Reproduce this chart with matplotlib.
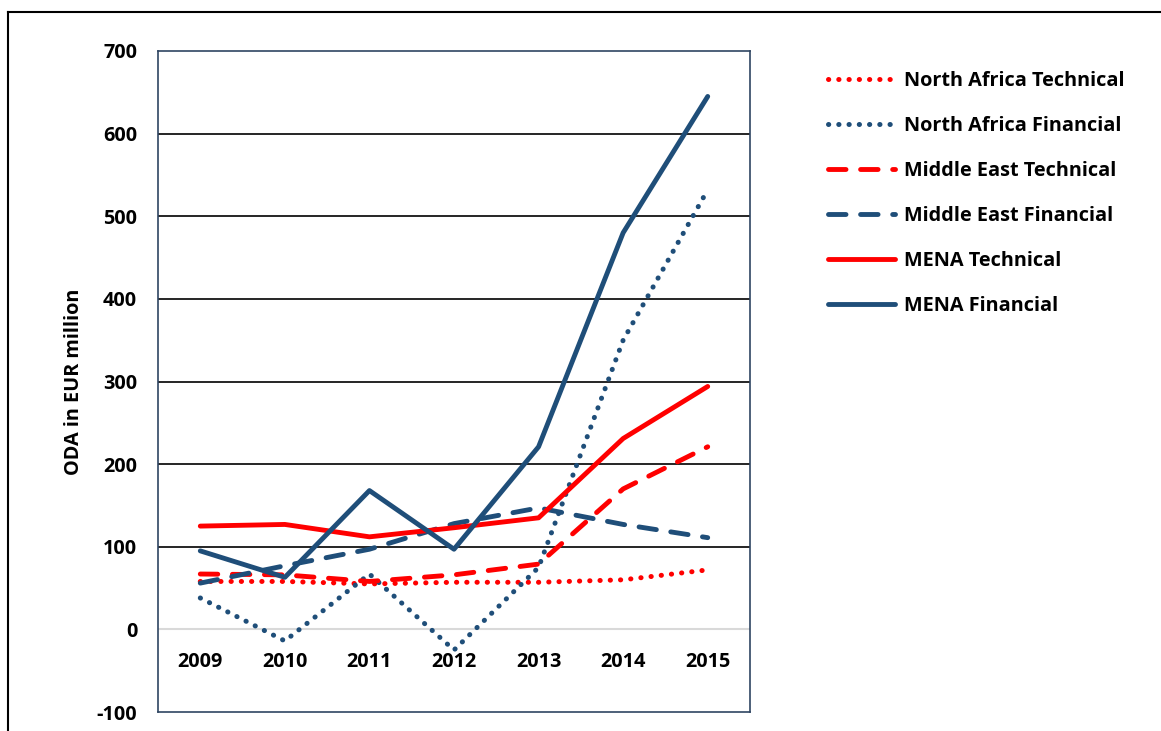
import matplotlib
matplotlib.use("Agg")
import matplotlib.pyplot as plt
from matplotlib.lines import Line2D

years = ["2009", "2010", "2011", "2012", "2013", "2014", "2015"]
na_tech = [58, 58, 55, 57, 57, 60, 72]
na_fin = [38, -14, 67, -25, 75, 350, 532]
me_tech = [67, 66, 58, 66, 79, 170, 221]
me_fin = [56, 77, 97, 128, 147, 127, 111]
mena_tech = [125, 127, 112, 123, 135, 231, 294]
mena_fin = [95, 63, 168, 97, 221, 480, 645]
yticks = [-100, 0, 100, 200, 300, 400, 500, 600, 700]

RED = "#FF0000"
BLUE = "#1F4E79"

plt.rcParams['font.family'] = ['Open Sans', 'DejaVu Sans']
plt.rcParams['font.weight'] = 'bold'
FS = 14.3

fig = plt.figure(figsize=(11.61, 7.31), dpi=100)
ax = fig.add_axes([158/1161, 1 - 712/731, (750-158)/1161, (712-51)/731])

x = list(range(len(years)))
dot = (0, (0.05, 2.0))
dash = (0, (3.6, 3.0))
series = [
    ("North Africa Technical", na_tech, RED, dot),
    ("North Africa Financial", na_fin, BLUE, dot),
    ("Middle East Technical", me_tech, RED, dash),
    ("Middle East Financial", me_fin, BLUE, dash),
    ("MENA Technical", mena_tech, RED, '-'),
    ("MENA Financial", mena_fin, BLUE, '-'),
]
handles = []
for name, vals, col, ls in series:
    kw = dict(color=col, lw=3.5, linestyle=ls, label=name, zorder=3,
              dash_capstyle='round', solid_capstyle='round', solid_joinstyle='round')
    if ls == dot:
        kw.update(lw=3.6)
    ln, = ax.plot(x, vals, **kw)
    handles.append(ln)

ax.set_xlim(-0.5, 6.5)
ax.set_ylim(-100, 700)
ax.set_yticks(yticks)
ax.set_yticklabels([str(v) for v in yticks], fontsize=FS, fontweight='bold')
ax.tick_params(axis='y', length=0, pad=15)
ax.set_xticks([])
for v in yticks[2:-1]:
    ax.axhline(v, color='black', lw=1.2, zorder=1)
ax.axhline(0, color='#D9D9D9', lw=1.5, zorder=1)
for s in ax.spines.values():
    s.set_color('#2F4562')
    s.set_linewidth(1.2)
for i, y in enumerate(years):
    ax.text(i, -39, y, ha='center', va='center', fontsize=FS, fontweight='bold')
ax.set_ylabel("ODA in EUR million", fontsize=FS, fontweight='bold', labelpad=9)

leg = fig.legend(handles=handles, loc='upper left', bbox_to_anchor=(810/1161, 1 - 53/731),
                 frameon=False, fontsize=FS, handlelength=3.4, labelspacing=1.26,
                 handletextpad=0.45)
for t in leg.get_texts():
    t.set_fontweight('bold')

# outer frame lines
fig.add_artist(Line2D([8/1161, 8/1161], [0, 1 - 12/731], color='black', lw=1.5, transform=fig.transFigure))
fig.add_artist(Line2D([8/1161, 1], [1 - 12/731, 1 - 12/731], color='black', lw=1.5, transform=fig.transFigure))

fig.savefig("out.png", dpi=100)
